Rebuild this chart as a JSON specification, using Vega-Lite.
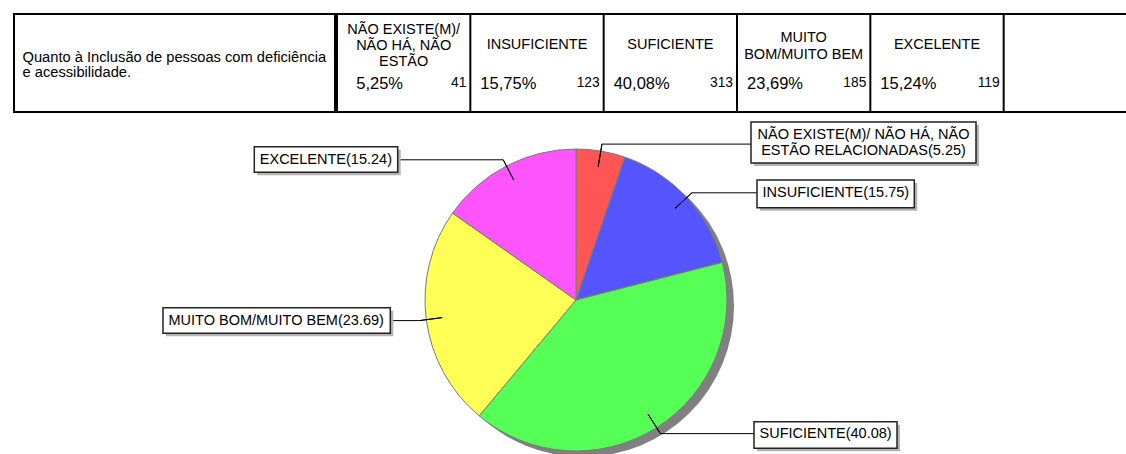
{
  "$schema": "https://vega.github.io/schema/vega-lite/v6.json",
  "padding": {"left": 13, "top": 12, "right": 0, "bottom": 0},
  "background": "white",
  "spacing": 7,
  "datasets": {
    "question": [{"q": ["Quanto à Inclusão de pessoas com deficiência", "e acessibilidade."]}],
    "cats": [
      {"idx": 1, "cat": "NÃO EXISTE(M)/ NÃO HÁ, NÃO ESTÃO RELACIONADAS", "head": ["NÃO EXISTE(M)/", "NÃO HÁ, NÃO", "ESTÃO"], "pct": 5.25, "pctText": "5,25%", "count": 41, "label": ["NÃO EXISTE(M)/ NÃO HÁ, NÃO", "ESTÃO RELACIONADAS(5.25)"]},
      {"idx": 2, "cat": "INSUFICIENTE", "head": ["INSUFICIENTE"], "pct": 15.75, "pctText": "15,75%", "count": 123, "label": ["INSUFICIENTE(15.75)"]},
      {"idx": 3, "cat": "SUFICIENTE", "head": ["SUFICIENTE"], "pct": 40.08, "pctText": "40,08%", "count": 313, "label": ["SUFICIENTE(40.08)"]},
      {"idx": 4, "cat": "MUITO BOM/MUITO BEM", "head": ["MUITO", "BOM/MUITO BEM"], "pct": 23.69, "pctText": "23,69%", "count": 185, "label": ["MUITO BOM/MUITO BEM(23.69)"]},
      {"idx": 5, "cat": "EXCELENTE", "head": ["EXCELENTE"], "pct": 15.24, "pctText": "15,24%", "count": 119, "label": ["EXCELENTE(15.24)"]}
    ]
  },
  "config": {
    "view": {"stroke": "black", "strokeWidth": 2},
    "font": "Liberation Sans",
    "text": {"font": "Liberation Sans", "color": "black"}
  },
  "vconcat": [
    {
      "spacing": 0,
      "hconcat": [
        {
          "width": 321,
          "height": 98,
          "data": {"name": "question"},
          "layer": [
            {
              "mark": {"type": "rect", "fill": "white", "fillOpacity": 0, "stroke": "black", "strokeWidth": 2},
              "encoding": {}
            },
            {
              "mark": {"type": "text", "align": "left", "baseline": "middle", "dx": -152, "dy": -5, "fontSize": 14.7, "lineHeight": 15},
              "encoding": {"text": {"field": "q"}}
            }
          ]
        },
        {
          "width": 800,
          "height": 98,
          "data": {"name": "cats"},
          "layer": [
            {
              "mark": {"type": "rule", "stroke": "black", "strokeWidth": 2},
              "encoding": {
                "x": {"field": "cat", "type": "nominal", "bandPosition": 1, "axis": null, "sort": null,
                  "scale": {"domain": ["NÃO EXISTE(M)/ NÃO HÁ, NÃO ESTÃO RELACIONADAS", "INSUFICIENTE", "SUFICIENTE", "MUITO BOM/MUITO BEM", "EXCELENTE", " "], "paddingInner": 0, "paddingOuter": 0}}
              }
            },
            {
              "transform": [{"filter": "datum.idx == 2 || datum.idx == 3 || datum.idx == 5"}],
              "mark": {"type": "text", "align": "center", "baseline": "middle", "dy": -18.3, "fontSize": 14.5, "lineHeight": 16},
              "encoding": {
                "x": {"field": "cat", "type": "nominal", "bandPosition": 0.5, "axis": null, "sort": null,
                  "scale": {"domain": ["NÃO EXISTE(M)/ NÃO HÁ, NÃO ESTÃO RELACIONADAS", "INSUFICIENTE", "SUFICIENTE", "MUITO BOM/MUITO BEM", "EXCELENTE", " "], "paddingInner": 0, "paddingOuter": 0}},
                "text": {"field": "head"}
              }
            },
            {
              "transform": [{"filter": "datum.idx == 1"}],
              "mark": {"type": "text", "align": "center", "baseline": "middle", "dy": -33.3, "fontSize": 14.5, "lineHeight": 16},
              "encoding": {
                "x": {"field": "cat", "type": "nominal", "bandPosition": 0.5, "axis": null, "sort": null,
                  "scale": {"domain": ["NÃO EXISTE(M)/ NÃO HÁ, NÃO ESTÃO RELACIONADAS", "INSUFICIENTE", "SUFICIENTE", "MUITO BOM/MUITO BEM", "EXCELENTE", " "], "paddingInner": 0, "paddingOuter": 0}},
                "text": {"field": "head"}
              }
            },
            {
              "transform": [{"filter": "datum.idx == 4"}],
              "mark": {"type": "text", "align": "center", "baseline": "middle", "dy": -24.8, "fontSize": 14.5, "lineHeight": 16.4},
              "encoding": {
                "x": {"field": "cat", "type": "nominal", "bandPosition": 0.5, "axis": null, "sort": null,
                  "scale": {"domain": ["NÃO EXISTE(M)/ NÃO HÁ, NÃO ESTÃO RELACIONADAS", "INSUFICIENTE", "SUFICIENTE", "MUITO BOM/MUITO BEM", "EXCELENTE", " "], "paddingInner": 0, "paddingOuter": 0}},
                "text": {"field": "head"}
              }
            },
            {
              "mark": {"type": "text", "align": "right", "baseline": "middle", "dx": 66, "dy": 21.3, "fontSize": 16.5},
              "encoding": {
                "x": {"field": "cat", "type": "nominal", "bandPosition": 0, "axis": null, "sort": null,
                  "scale": {"domain": ["NÃO EXISTE(M)/ NÃO HÁ, NÃO ESTÃO RELACIONADAS", "INSUFICIENTE", "SUFICIENTE", "MUITO BOM/MUITO BEM", "EXCELENTE", " "], "paddingInner": 0, "paddingOuter": 0}},
                "text": {"field": "pctText"}
              }
            },
            {
              "mark": {"type": "text", "align": "right", "baseline": "middle", "dx": -4, "dy": 19.5, "fontSize": 13.8},
              "encoding": {
                "x": {"field": "cat", "type": "nominal", "bandPosition": 1, "axis": null, "sort": null,
                  "scale": {"domain": ["NÃO EXISTE(M)/ NÃO HÁ, NÃO ESTÃO RELACIONADAS", "INSUFICIENTE", "SUFICIENTE", "MUITO BOM/MUITO BEM", "EXCELENTE", " "], "paddingInner": 0, "paddingOuter": 0}},
                "text": {"field": "count"}
              }
            }
          ]
        }
      ]
    },
    {
      "width": 1124,
      "height": 358,
      "view": {"stroke": null},
      "data": {"name": "cats"},
      "layer": [
        {
          "transform": [{"aggregate": [{"op": "sum", "field": "pct", "as": "total"}]}],
          "mark": {"type": "arc", "radius": 151, "fill": "#808080", "xOffset": 7, "yOffset": 6},
          "encoding": {"theta": {"field": "total", "type": "quantitative", "stack": true}}
        },
        {
          "mark": {"type": "arc", "radius": 151, "stroke": "#7a7a7a", "strokeWidth": 1},
          "encoding": {
            "theta": {"field": "pct", "type": "quantitative", "stack": true},
            "order": {"field": "idx", "type": "quantitative"},
            "color": {"field": "cat", "type": "nominal", "legend": null,
              "scale": {"domain": ["NÃO EXISTE(M)/ NÃO HÁ, NÃO ESTÃO RELACIONADAS", "INSUFICIENTE", "SUFICIENTE", "MUITO BOM/MUITO BEM", "EXCELENTE"], "range": ["#ff5555", "#5555ff", "#55ff55", "#ffff55", "#ff55ff"]}}
          }
        },
        {
          "mark": {"type": "arc", "radius": 158, "radius2": 135, "padAngle": 3, "fill": "white", "fillOpacity": 0, "stroke": "black", "strokeWidth": 1},
          "encoding": {
            "theta": {"field": "pct", "type": "quantitative", "stack": true},
            "order": {"field": "idx", "type": "quantitative"}
          }
        },
        {
          "mark": {"type": "rule", "stroke": "black", "strokeWidth": 1},
          "encoding": {
            "x": {"field": "pct", "type": "quantitative", "axis": null,
              "scale": {"type": "linear", "nice": false, "zero": false, "domain": [1, 2, 3, 4, 5, 5.25, 15.24, 15.75, 23.69, 40.08, 41, 119, 123, 185, 313], "range": [737, 743, 740, 149, 240.3, 587.9, 489.2, 678.0, 405.4, 646.4, 962, 383.7, 900.3, 376.3, 883]}},
            "x2": {"field": "idx"},
            "y": {"field": "idx", "type": "quantitative", "axis": null,
              "scale": {"type": "linear", "nice": false, "zero": false, "domain": [1, 2, 3, 4, 5, 5.25, 15.24, 15.75, 23.69, 40.08, 41, 119, 123, 185, 313], "range": [23.1, 71.8, 312.6, 199.6, 38.8, 1, 25.7, 59, 186.7, 300.7, 42, 51.3, 86.7, 212.3, 327.3]}}
          }
        },
        {
          "mark": {"type": "rect", "fill": "#b4b4b4", "xOffset": 3, "x2Offset": 3, "yOffset": 3, "y2Offset": 3},
          "encoding": {
            "x": {"field": "idx", "type": "quantitative", "axis": null,
              "scale": {"type": "linear", "nice": false, "zero": false, "domain": [1, 2, 3, 4, 5, 5.25, 15.24, 15.75, 23.69, 40.08, 41, 119, 123, 185, 313], "range": [737, 743, 740, 149, 240.3, 587.9, 489.2, 678.0, 405.4, 646.4, 962, 383.7, 900.3, 376.3, 883]}},
            "x2": {"field": "count"},
            "y": {"field": "pct", "type": "quantitative", "axis": null,
              "scale": {"type": "linear", "nice": false, "zero": false, "domain": [1, 2, 3, 4, 5, 5.25, 15.24, 15.75, 23.69, 40.08, 41, 119, 123, 185, 313], "range": [23.1, 71.8, 312.6, 199.6, 38.8, 1, 25.7, 59, 186.7, 300.7, 42, 51.3, 86.7, 212.3, 327.3]}},
            "y2": {"field": "count"}
          }
        },
        {
          "mark": {"type": "rect", "fill": "white", "stroke": "#222222", "strokeWidth": 1.5},
          "encoding": {
            "x": {"field": "idx", "type": "quantitative", "axis": null,
              "scale": {"type": "linear", "nice": false, "zero": false, "domain": [1, 2, 3, 4, 5, 5.25, 15.24, 15.75, 23.69, 40.08, 41, 119, 123, 185, 313], "range": [737, 743, 740, 149, 240.3, 587.9, 489.2, 678.0, 405.4, 646.4, 962, 383.7, 900.3, 376.3, 883]}},
            "x2": {"field": "count"},
            "y": {"field": "pct", "type": "quantitative", "axis": null,
              "scale": {"type": "linear", "nice": false, "zero": false, "domain": [1, 2, 3, 4, 5, 5.25, 15.24, 15.75, 23.69, 40.08, 41, 119, 123, 185, 313], "range": [23.1, 71.8, 312.6, 199.6, 38.8, 1, 25.7, 59, 186.7, 300.7, 42, 51.3, 86.7, 212.3, 327.3]}},
            "y2": {"field": "count"}
          }
        },
        {
          "transform": [{"filter": "datum.idx != 1"}],
          "mark": {"type": "text", "align": "left", "baseline": "middle", "dx": 5.5, "fontSize": 14.5, "lineHeight": 16},
          "encoding": {
            "x": {"field": "idx", "type": "quantitative", "axis": null,
              "scale": {"type": "linear", "nice": false, "zero": false, "domain": [1, 2, 3, 4, 5, 5.25, 15.24, 15.75, 23.69, 40.08, 41, 119, 123, 185, 313], "range": [737, 743, 740, 149, 240.3, 587.9, 489.2, 678.0, 405.4, 646.4, 962, 383.7, 900.3, 376.3, 883]}},
            "y": {"field": "idx", "type": "quantitative", "axis": null,
              "scale": {"type": "linear", "nice": false, "zero": false, "domain": [1, 2, 3, 4, 5, 5.25, 15.24, 15.75, 23.69, 40.08, 41, 119, 123, 185, 313], "range": [23.1, 71.8, 312.6, 199.6, 38.8, 1, 25.7, 59, 186.7, 300.7, 42, 51.3, 86.7, 212.3, 327.3]}},
            "text": {"field": "label"}
          }
        },
        {
          "transform": [{"filter": "datum.idx == 1"}],
          "mark": {"type": "text", "align": "center", "baseline": "middle", "dx": 112.5, "dy": -9.5, "fontSize": 14.5, "lineHeight": 16.5},
          "encoding": {
            "x": {"field": "idx", "type": "quantitative", "axis": null,
              "scale": {"type": "linear", "nice": false, "zero": false, "domain": [1, 2, 3, 4, 5, 5.25, 15.24, 15.75, 23.69, 40.08, 41, 119, 123, 185, 313], "range": [737, 743, 740, 149, 240.3, 587.9, 489.2, 678.0, 405.4, 646.4, 962, 383.7, 900.3, 376.3, 883]}},
            "y": {"field": "idx", "type": "quantitative", "axis": null,
              "scale": {"type": "linear", "nice": false, "zero": false, "domain": [1, 2, 3, 4, 5, 5.25, 15.24, 15.75, 23.69, 40.08, 41, 119, 123, 185, 313], "range": [23.1, 71.8, 312.6, 199.6, 38.8, 1, 25.7, 59, 186.7, 300.7, 42, 51.3, 86.7, 212.3, 327.3]}},
            "text": {"field": "label"}
          }
        }
      ]
    }
  ]
}
